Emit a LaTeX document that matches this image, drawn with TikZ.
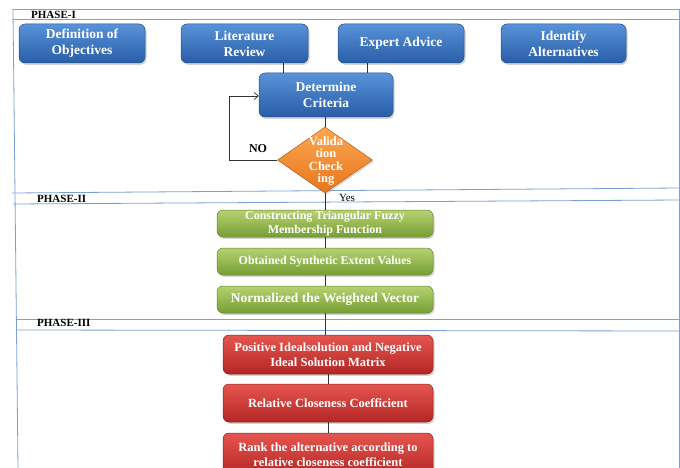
\documentclass[tikz,border=0pt]{standalone}
\usepackage{fontspec}
\setmainfont{Liberation Serif}
\usetikzlibrary{shapes.geometric,shadows,arrows.meta}
\definecolor{bluetop}{RGB}{88,146,216}
\definecolor{bluebot}{RGB}{40,94,168}
\definecolor{blueedge}{RGB}{34,76,140}
\definecolor{greentop}{RGB}{182,210,112}
\definecolor{greenbot}{RGB}{118,158,52}
\definecolor{greenedge}{RGB}{98,132,44}
\definecolor{redtop}{RGB}{230,86,80}
\definecolor{redbot}{RGB}{178,38,36}
\definecolor{rededge}{RGB}{145,30,30}
\definecolor{orangetop}{RGB}{250,168,82}
\definecolor{orangebot}{RGB}{232,118,28}
\definecolor{frameblue}{RGB}{122,160,215}
\begin{document}
\begin{tikzpicture}[x=1pt,y=-1pt,
  boxbase/.style={rounded corners=6pt, text=white, align=center, inner sep=0pt,
    line width=0.5pt,
    drop shadow={opacity=0.35, shadow xshift=1.5pt, shadow yshift=-1.8pt}},
  bluebox/.style={boxbase, draw=blueedge, top color=bluetop, bottom color=bluebot,
    font=\bfseries\fontsize{13.5}{16}\selectfont},
  greenbox/.style={boxbase, draw=greenedge, top color=greentop, bottom color=greenbot,
    minimum width=216pt, font=\bfseries\fontsize{12}{14}\selectfont},
  redbox/.style={boxbase, draw=rededge, top color=redtop, bottom color=redbot,
    minimum width=210pt, font=\bfseries\fontsize{12.5}{14.5}\selectfont},
  frameline/.style={draw=frameblue, line width=0.8pt},
  conn/.style={draw=black!80, line width=0.7pt},
  phaselabel/.style={anchor=west, inner sep=0pt, font=\bfseries\fontsize{11}{12}\selectfont}
]
\useasboundingbox (0,0) rectangle (680,468);

% frame lines
\draw[frameline] (13,9) -- (680,9);
\draw[frameline] (13,19.5) -- (680,19.5);
\draw[frameline] (12,193) -- (680,188);
\draw[frameline] (13,204) -- (680,200);
\draw[frameline] (16,319) -- (680,319);
\draw[frameline] (16,330) -- (680,331);
\draw[frameline] (13,9) -- (18,468);
\draw[frameline] (679,9) -- (679,468);

% phase labels
\node[phaselabel] (p1) at (31,14.5) {PHASE-I};
\node[phaselabel] (p2) at (37,199) {PHASE-II};
\node[phaselabel] (p3) at (37,323) {PHASE-III};

% phase I boxes
\node[bluebox, minimum width=126pt, minimum height=39pt] (def) at (82,43.5) {Definition of\\Objectives};
\node[bluebox, minimum width=127pt, minimum height=39pt] (lit) at (244.5,43.5) {Literature\\Review};
\node[bluebox, minimum width=126pt, minimum height=39pt] (exp) at (401,43.5) {Expert Advice};
\node[bluebox, minimum width=125pt, minimum height=39pt] (alt) at (563.5,43.5) {Identify\\Alternatives};
\node[bluebox, minimum width=134pt, minimum height=44pt] (det) at (326,95) {Determine\\Criteria};

% validation diamond
\node[diamond, draw=orangebot!80!black, top color=orangetop, bottom color=orangebot,
  line width=0.5pt, inner sep=0pt, minimum width=95pt, minimum height=66pt,
  drop shadow={opacity=0.3, shadow xshift=1.5pt, shadow yshift=-1.5pt}] (val) at (325,160) {};
\node[text=white, align=center, inner sep=0pt,
  font=\bfseries\fontsize{12.5}{12.5}\selectfont] (valtxt) at (326,161) {Valida\\tion\\Check\\ing};

% phase II boxes
\node[greenbox, minimum height=27pt] (g1) at (325,223.5) {Constructing Triangular Fuzzy\\Membership Function};
\node[greenbox, minimum height=27pt] (g2) at (325,261.5) {Obtained Synthetic Extent Values};
\node[greenbox, minimum height=27pt, font=\bfseries\fontsize{13.5}{15}\selectfont] (g3) at (325,299.5) {Normalized the Weighted Vector};

% phase III boxes
\node[redbox, minimum height=39pt] (r1) at (328,354.5) {Positive Idealsolution and Negative\\Ideal Solution Matrix};
\node[redbox, minimum height=38pt] (r2) at (328,403) {Relative Closeness Coefficient};
\node[redbox, minimum height=43pt] (r3) at (328,454.5) {Rank the alternative according to\\relative closeness coefficient};

% connectors
\coordinate (litx) at (283,0);
\coordinate (expx) at (367,0);
\coordinate (lp) at (229,96);
\draw[conn] (lit.south -| litx) -- (det.north -| litx);
\draw[conn] (exp.south -| expx) -- (det.north -| expx);
\draw[conn] (det.south -| val.north) -- (val.north);
\draw[conn, -{Straight Barb[length=4pt,width=7pt]}] (val.west) -| (lp) -- (det.west |- lp);
\node[font=\bfseries\fontsize{12}{12}\selectfont, inner sep=0pt] (no) at (258,149) {NO};
\draw[conn] (val.south) -- (g1.north -| val.south);
\node[font=\fontsize{11}{11}\selectfont, inner sep=0pt] (yes) at (347,197.5) {Yes};
\draw[conn] (g1.south) -- (g2.north);
\draw[conn] (g2.south) -- (g3.north);
\draw[conn] (g3.south) -- (g3.south |- r1.north);
\draw[conn] (r1.south) -- (r2.north);
\draw[conn] (r2.south) -- (r3.north);
\end{tikzpicture}
\end{document}
